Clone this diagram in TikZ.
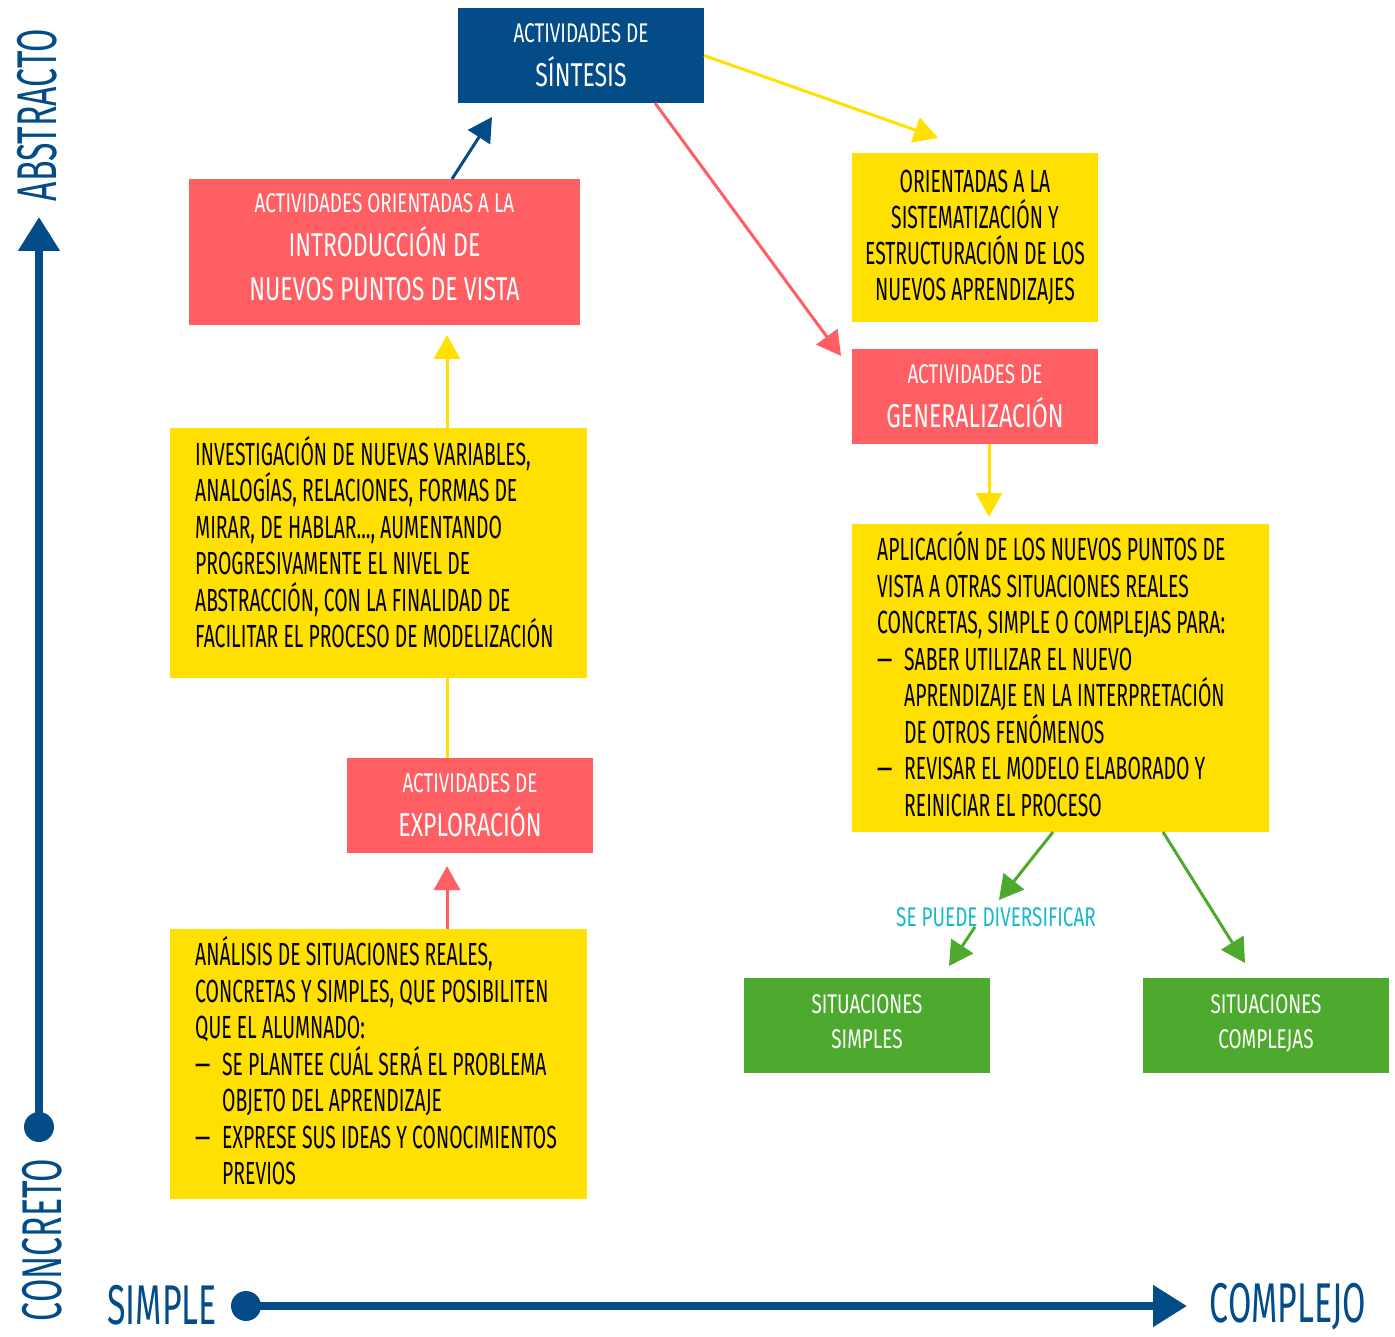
\documentclass[tikz,border=0pt]{standalone}
\usepackage{fontspec}
\setmainfont{Fira Sans}
\newfontfamily\hand[FakeStretch=0.605]{Fira Sans}
\newfontfamily\handT[FakeStretch=0.7]{Fira Sans}
\usetikzlibrary{arrows.meta,calc}
\definecolor{cblue}{HTML}{034C87}
\definecolor{cred}{HTML}{FF5E63}
\definecolor{cyel}{HTML}{FFE000}
\definecolor{cgreen}{HTML}{4DAA2E}
\definecolor{ccyan}{HTML}{16B8CC}
\newcommand{\dashitem}{\makebox[27pt][l]{—}}
\newcommand{\indentitem}{\hspace*{27pt}}
\begin{document}
\begin{tikzpicture}[x=1pt,y=-1pt,
 box/.style={anchor=north west, inner sep=0pt, outer sep=0pt},
 ybox/.style={box, fill=cyel},
 ytext/.style={anchor=west, inner sep=0pt, align=left, text=black, font=\hand\fontsize{32}{36.5}\selectfont},
 tbox/.style={box, text=white, align=center, font=\handT\fontsize{27}{44}\selectfont},
 gbox/.style={box, fill=cgreen, text=white, align=center, text depth=8pt, font=\handT\fontsize{27}{35}\selectfont},
 conn/.style={line width=3pt},
 tip/.style={-{Triangle[length=24pt,width=26pt]}},
 axis/.style={line width=8pt, draw=cblue},
 axlabel/.style={text=cblue, font=\hand\fontsize{56}{60}\selectfont, inner sep=0pt},
 dot/.style={circle, fill=cblue, minimum size=30pt, inner sep=0pt},
]
\useasboundingbox (0,0) rectangle (1395,1337);

% ---------- boxes ----------
\node[tbox, fill=cblue, minimum width=246pt, minimum height=95pt] (sint) at (458,8)
  {ACTIVIDADES DE\\{\fontsize{33}{44}\selectfont SÍNTESIS}};
\node[tbox, fill=cred, minimum width=391pt, minimum height=146pt, text depth=10pt] (intro) at (189,179)
  {ACTIVIDADES ORIENTADAS A LA\\{\fontsize{33}{44}\selectfont INTRODUCCIÓN DE}\\{\fontsize{33}{44}\selectfont NUEVOS PUNTOS DE VISTA}};
\node[ybox, minimum width=417pt, minimum height=250pt] (inv) at (170,428) {};
\node[ytext] (invT) at ($(inv.west)+(25,-11)$)
  {INVESTIGACIÓN DE NUEVAS VARIABLES,\\
   ANALOGÍAS, RELACIONES, FORMAS DE\\
   MIRAR, DE HABLAR..., AUMENTANDO\\
   PROGRESIVAMENTE EL NIVEL DE\\
   ABSTRACCIÓN, CON LA FINALIDAD DE\\
   FACILITAR EL PROCESO DE MODELIZACIÓN};
\node[tbox, fill=cred, minimum width=246pt, minimum height=95pt] (expl) at (347,758)
  {ACTIVIDADES DE\\{\fontsize{33}{44}\selectfont EXPLORACIÓN}};
\node[ybox, minimum width=417pt, minimum height=270pt] (anal) at (170,929) {};
\node[ytext] (analT) at ($(anal.west)+(25,-3)$)
  {ANÁLISIS DE SITUACIONES REALES,\\
   CONCRETAS Y SIMPLES, QUE POSIBILITEN\\
   QUE EL ALUMNADO:\\
   \dashitem SE PLANTEE CUÁL SERÁ EL PROBLEMA\\
   \indentitem OBJETO DEL APRENDIZAJE\\
   \dashitem EXPRESE SUS IDEAS Y CONOCIMIENTOS\\
   \indentitem PREVIOS};
\node[ybox, minimum width=246pt, minimum height=169pt, align=center, font=\hand\fontsize{32}{36}\selectfont] (orient) at (852,153)
  {ORIENTADAS A LA\\SISTEMATIZACIÓN Y\\ESTRUCTURACIÓN DE LOS\\NUEVOS APRENDIZAJES};
\node[tbox, fill=cred, minimum width=246pt, minimum height=95pt] (gen) at (852,349)
  {ACTIVIDADES DE\\{\fontsize{33}{44}\selectfont GENERALIZACIÓN}};
\node[ybox, minimum width=417pt, minimum height=308pt] (apl) at (852,524) {};
\node[ytext] (aplT) at ($(apl.west)+(25,-4)$)
  {APLICACIÓN DE LOS NUEVOS PUNTOS DE\\
   VISTA A OTRAS SITUACIONES REALES\\
   CONCRETAS, SIMPLE O COMPLEJAS PARA:\\
   \dashitem SABER UTILIZAR EL NUEVO\\
   \indentitem APRENDIZAJE EN LA INTERPRETACIÓN\\
   \indentitem DE OTROS FENÓMENOS\\
   \dashitem REVISAR EL MODELO ELABORADO Y\\
   \indentitem REINICIAR EL PROCESO};
\node[gbox, minimum width=246pt, minimum height=95pt] (simp) at (744,978)
  {SITUACIONES\\SIMPLES};
\node[gbox, minimum width=246pt, minimum height=95pt] (comp) at (1143,978)
  {SITUACIONES\\COMPLEJAS};
\node[text=ccyan, inner sep=0pt, font=\handT\fontsize{27}{30}\selectfont] (div) at (996,917) {SE PUEDE DIVERSIFICAR};

% ---------- connectors ----------
\coordinate (t1) at (492,117);
\draw[conn, draw=cblue, fill=cblue, tip] ($(intro.north west)+(263,0)$) -- (t1);
\coordinate (t2) at (447,335);
\draw[conn, draw=cyel, fill=cyel, tip] ($(inv.north west)+(277,0)$) -- (t2);
\draw[conn, draw=cyel] ($(expl.north west)+(100,0)$) -- ($(inv.south west)+(277,0)$);
\coordinate (t3) at (447,866);
\draw[conn, draw=cred, fill=cred, tip] ($(anal.north west)+(277,0)$) -- (t3);
\coordinate (t4) at (841,356);
\draw[conn, draw=cred, fill=cred, tip] ($(sint.south west)+(197,0)$) -- (t4);
\coordinate (t5) at (938,138);
\draw[conn, draw=cyel, fill=cyel, tip] (sint.east) -- (t5);
\coordinate (t6) at (989,517);
\draw[conn, draw=cyel, fill=cyel, tip] ($(gen.south west)+(137,0)$) -- (t6);
\coordinate (t7) at (999,900);
\draw[conn, draw=cgreen, fill=cgreen, tip] ($(apl.south west)+(201,0)$) -- (t7);
\coordinate (t8) at (949,966);
\draw[conn, draw=cgreen, fill=cgreen, tip] ($(div.south)+(-21,0)$) -- (t8);
\coordinate (t9) at (1245,963);
\draw[conn, draw=cgreen, fill=cgreen, tip] ($(apl.south west)+(311,0)$) -- (t9);

% ---------- axes ----------
\node[dot] (vdot) at (39,1127) {};
\coordinate (vtip) at (39,217);
\draw[axis, -{Triangle[length=34pt,width=40pt]}, fill=cblue] (vdot.center) -- (vtip);
\node[dot] (hdot) at (246,1306) {};
\coordinate (htip) at (1187,1306);
\draw[axis, -{Triangle[length=34pt,width=40pt]}, fill=cblue] (hdot.center) -- (htip);

\node[axlabel, rotate=90] (abs) at (37,115) {ABSTRACTO};
\node[axlabel, rotate=90] (conc) at (42,1240) {CONCRETO};
\node[axlabel] (simpleL) at (162,1305) {SIMPLE};
\node[axlabel] (complejoL) at (1288,1307) {COMPLEJO};
\end{tikzpicture}
\end{document}
